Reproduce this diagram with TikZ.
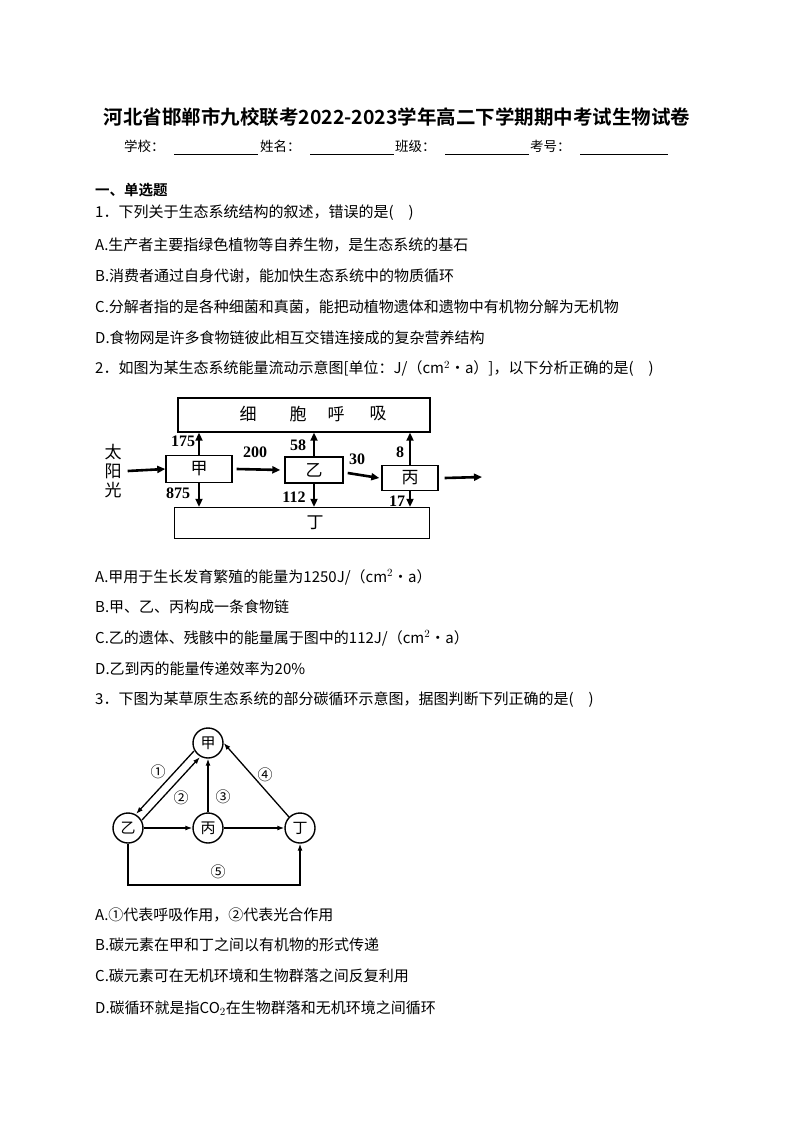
\documentclass[tikz,border=0pt]{standalone}
\usepackage{fontspec}
\setmainfont{Noto Sans CJK SC}[BoldFont={Noto Sans CJK SC Bold}]
\newfontfamily\numfont{Liberation Serif}
\usetikzlibrary{arrows.meta}
\begin{document}
\begin{tikzpicture}[x=1pt,y=-1pt,
  txt/.style={anchor=west,inner sep=0pt,font=\fontsize{15}{16}\selectfont},
  bx/.style={draw,line width=1.4pt,inner sep=0pt},
  ar/.style={-{Triangle[length=8pt,width=7pt]},line width=2.6pt},
  num/.style={inner sep=0pt,font=\numfont\bfseries\fontsize{16}{17}\selectfont},
  cir/.style={draw,circle,line width=1.4pt,minimum size=30pt,inner sep=0pt,font=\fontsize{15}{16}\selectfont},
  ca/.style={-{Latex[length=7pt,width=5pt]},line width=1.3pt},
  lab/.style={inner sep=0pt,font=\fontsize{15}{16}\selectfont}]
\useasboundingbox (0,0) rectangle (794,1123);
\fill[white] (0,0) rectangle (794,1123);
\node[inner sep=0pt,font=\bfseries\fontsize{19.5}{22}\selectfont] (title) at (397,117) {河北省邯郸市九校联考2022-2023学年高二下学期期中考试生物试卷};
\node[txt,font=\fontsize{13.5}{15}\selectfont] (xx) at (124,146) {学校：};
\node[txt,font=\fontsize{13.5}{15}\selectfont] (xm) at (260,146) {姓名：};
\node[txt,font=\fontsize{13.5}{15}\selectfont] (bj) at (395,146) {班级：};
\node[txt,font=\fontsize{13.5}{15}\selectfont] (kh) at (530,146) {考号：};
\draw[line width=0.6pt] (174,154) -- (258,154) (310,154) -- (394,154) (445,154) -- (529,154) (580,154) -- (668,154);
\node[txt,font=\bfseries\fontsize{14.5}{16}\selectfont] (s1) at (95,190) {一、单选题};
\node[txt] (q1) at (95,213) {1．下列关于生态系统结构的叙述，错误的是(\quad)};
\node[txt] (q1a) at (95,245) {A.生产者主要指绿色植物等自养生物，是生态系统的基石};
\node[txt] (q1b) at (95,276) {B.消费者通过自身代谢，能加快生态系统中的物质循环};
\node[txt] (q1c) at (95,307) {C.分解者指的是各种细菌和真菌，能把动植物遗体和遗物中有机物分解为无机物};
\node[txt] (q1d) at (95,338) {D.食物网是许多食物链彼此相互交错连接成的复杂营养结构};
\node[txt] (q2) at (95,369) {2．如图为某生态系统能量流动示意图[单位：J/（cm$^2$•a）]，以下分析正确的是(\quad)};
% diagram 1
\node[bx,minimum width=252pt,minimum height=34pt] (hx) at (304,415) {};
\node[lab,font=\fontsize{17}{18}\selectfont] (hx1) at (248,414) {细};
\node[lab,font=\fontsize{17}{18}\selectfont] (hx2) at (298,414) {胞};
\node[lab,font=\fontsize{17}{18}\selectfont] (hx3) at (336,414) {呼};
\node[lab,font=\fontsize{17}{18}\selectfont] (hx4) at (378,414) {吸};
\node[bx,minimum width=255pt,minimum height=31pt] (ding) at (302,523) {};
\node[lab,font=\fontsize{17}{18}\selectfont] (dingt) at (315,523) {丁};
\node[bx,minimum width=66pt,minimum height=27pt,font=\fontsize{17}{18}\selectfont] (jia) at (199,469) {甲};
\node[bx,minimum width=58pt,minimum height=26pt,font=\fontsize{17}{18}\selectfont] (yi) at (314,470) {乙};
\node[bx,minimum width=56pt,minimum height=25pt,font=\fontsize{17}{18}\selectfont] (bing) at (410,478) {丙};
\node[lab,font=\fontsize{17}{18}\selectfont] (sun1) at (113,452) {太};
\node[lab,font=\fontsize{17}{18}\selectfont] (sun) at (113,471) {阳};
\node[lab,font=\fontsize{17}{18}\selectfont] (sun3) at (113,490) {光};
\coordinate (out) at (482,477);
\draw[ar] ([xshift=6pt]sun.east) -- (jia.west);
\draw[ar] ([xshift=4pt]jia.east) -- ([xshift=-4pt]yi.west);
\draw[ar] ([shift={(4,3)}]yi.east) -- ([xshift=-2pt]bing.west);
\draw[ar] ([xshift=6pt]bing.east) -- (out);
\draw[ar] (jia.north) -- (jia.north|-hx.south);
\draw[ar] (yi.north) -- (yi.north|-hx.south);
\draw[ar] (bing.north) -- (bing.north|-hx.south);
\draw[ar] (jia.south) -- (jia.south|-ding.north);
\draw[ar] (yi.south) -- (yi.south|-ding.north);
\draw[ar] (bing.south) -- (bing.south|-ding.north);
\node[num] (n175) at (183,441) {175};
\node[num] (n200) at (255,452) {200};
\node[num] (n58) at (298,445) {58};
\node[num] (n30) at (357,459) {30};
\node[num] (n8) at (400,452) {8};
\node[num] (n875) at (178,493) {875};
\node[num] (n112) at (294,497) {112};
\node[num] (n17) at (397,501) {17};
\node[txt] (q2a) at (95,577) {A.甲用于生长发育繁殖的能量为1250J/（cm$^2$•a）};
\node[txt] (q2b) at (95,607) {B.甲、乙、丙构成一条食物链};
\node[txt] (q2c) at (95,638) {C.乙的遗体、残骸中的能量属于图中的112J/（cm$^2$•a）};
\node[txt] (q2d) at (95,669) {D.乙到丙的能量传递效率为20\%};
\node[txt] (q3) at (95,700) {3．下图为某草原生态系统的部分碳循环示意图，据图判断下列正确的是(\quad)};
% diagram 2
\node[cir] (A) at (208,743) {甲};
\node[cir] (B) at (128,828) {乙};
\node[cir] (C) at (208,828) {丙};
\node[cir] (D) at (300,828) {丁};
\draw[ca] ([shift={(-3,-3)}]A.south west) -- ([shift={(-3,-3)}]B.north east);
\draw[ca] ([shift={(3,3)}]B.north east) -- ([shift={(3,3)}]A.south west);
\draw[ca] (C) -- (A);
\draw[ca] (D.north west) -- (A.east);
\draw[ca] (B) -- (C);
\draw[ca] (C) -- (D);
\coordinate (b1) at (128,885);
\coordinate (b2) at (300,885);
\draw[ca] (B.south) -- (b1) -- (b2) -- (D.south);
\node[lab] (l1) at (158,772) {①};
\node[lab] (l2) at (181,798) {②};
\node[lab] (l3) at (223,797) {③};
\node[lab] (l4) at (265,775) {④};
\node[lab] (l5) at (218,872) {⑤};
\node[txt] (q3a) at (95,915) {A.①代表呼吸作用，②代表光合作用};
\node[txt] (q3b) at (95,945) {B.碳元素在甲和丁之间以有机物的形式传递};
\node[txt] (q3c) at (95,976) {C.碳元素可在无机环境和生物群落之间反复利用};
\node[txt] (q3d) at (95,1008) {D.碳循环就是指CO$_2$在生物群落和无机环境之间循环};
\end{tikzpicture}
\end{document}
